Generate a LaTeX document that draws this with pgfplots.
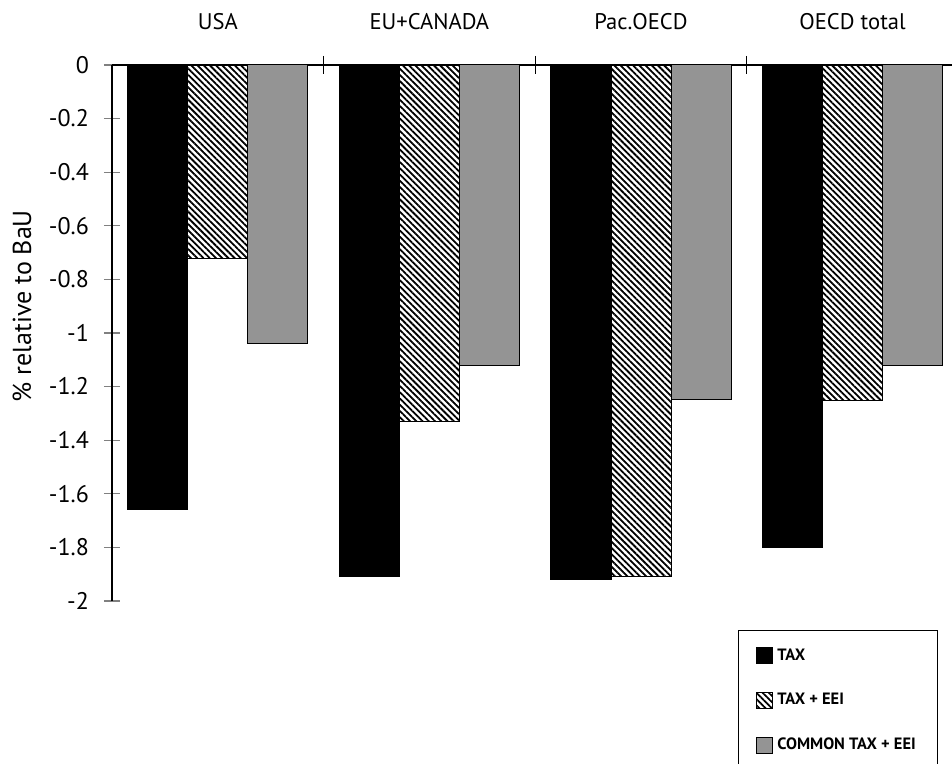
\documentclass[border=0pt]{standalone}
\usepackage{pgfplots}
\pgfplotsset{compat=1.18}
\usepackage{fontspec}
\setmainfont{PT Sans}
\usetikzlibrary{patterns.meta}
\begin{document}
\begin{tikzpicture}
\begin{axis}[
  scale only axis,
  width=420pt, height=268pt,
  xmin=-0.5, xmax=3.47,
  ymin=-2, ymax=0,
  axis x line=top, axis y line=left,
  axis line style={-, line width=0.8pt},
  xtick={0,1,2,3},
  xticklabels={USA, EU+CANADA, Pac.OECD, OECD total},
  major x tick style={draw=none},
  extra x ticks={0.5,1.5,2.5},
  extra x tick labels={},
  extra x tick style={major tick length=9pt, tick align=center, major x tick style={draw=black, line width=0.6pt}},
  xticklabel style={yshift=10pt, font=\fontsize{11.3}{13}\selectfont},
  ytick={-2,-1.8,-1.6,-1.4,-1.2,-1,-0.8,-0.6,-0.4,-0.2,0},
  yticklabel style={font=\fontsize{12}{14}\selectfont, xshift=-4pt},
  /pgf/number format/assume math mode=true,
  y tick style={line width=0.6pt},
  major tick length=8pt,
  tick align=center,
  ylabel={\% relative to BaU},
  ylabel style={at={(axis description cs:-0.107,0.55)}, anchor=center, font=\fontsize{13}{15}\selectfont},
  legend style={at={(axis description cs:0.745,-0.054)}, anchor=north west,
    draw=black, line width=0.6pt, inner xsep=9pt, inner ysep=7pt,
    row sep=11pt, font=\fontsize{8.2}{9}\selectfont\bfseries, cells={anchor=west}},
  legend image code/.code={\draw[#1, line width=0.5pt] (0pt,-4pt) rectangle (8pt,4pt);},
  clip=false,
]
\addplot[ybar, bar width=0.284, bar shift=-0.284, fill=black, draw=black]
  coordinates {(0,-1.66) (1,-1.91) (2,-1.92) (3,-1.80)};
\addlegendentry{TAX}
\addplot[ybar, bar width=0.284, bar shift=0, draw=black, line width=0.4pt,
  pattern={Lines[angle=-45, distance=2.2pt, line width=0.9pt]}, pattern color=black]
  coordinates {(0,-0.72) (1,-1.33) (2,-1.91) (3,-1.25)};
\addlegendentry{TAX + EEI}
\addplot[ybar, bar width=0.284, bar shift=0.284, draw=black, line width=0.5pt, fill=black!42]
  coordinates {(0,-1.04) (1,-1.12) (2,-1.25) (3,-1.12)};
\addlegendentry{COMMON TAX + EEI}
\end{axis}
\pgfresetboundingbox
\path[use as bounding box] (-56pt,-81.5pt) rectangle (420pt,300.5pt);
\end{tikzpicture}
\end{document}
